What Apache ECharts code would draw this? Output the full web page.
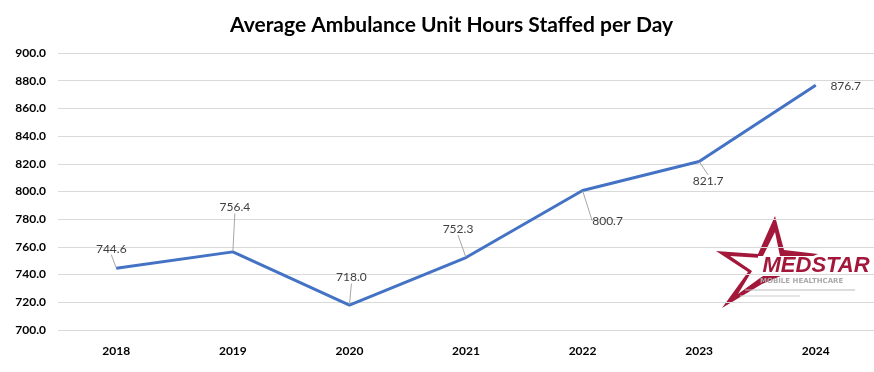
<!DOCTYPE html>
<html><head><meta charset="utf-8">
<script src="https://cdn.jsdelivr.net/npm/echarts@6/dist/echarts.min.js"></script>
<style>html,body{margin:0;padding:0;background:#fff}#c{width:874px;height:372px}</style>
</head><body><div id="c"></div>
<script>
const titleText = 'Average Ambulance Unit Hours Staffed per Day';
const years = ['2018','2019','2020','2021','2022','2023','2024'];
const hours = [744.6, 756.4, 718.0, 752.3, 800.7, 821.7, 876.7];
const yMin = 700, yMax = 900, yStep = 20;

const labelShift = [[-5,-8],[2,-33],[2,-16],[-8,-17],[25,42],[9,31],[30,12]];

const chart = echarts.init(document.getElementById('c'), null, {renderer:'canvas'});
const red = '#A3173A';
const seriesData = hours.map((v,i)=> i === hours.length-1 ? {value:v,labelLine:{show:false}} : v);
chart.setOption({
  animation:false,
  title:{text:titleText,left:225,top:10,textStyle:{fontFamily:'Lato',fontWeight:'bold',fontSize:21,color:'#000'}},
  grid:{left:58,right:0,top:53,bottom:42},
  xAxis:{type:'category',data:years,boundaryGap:true,
    axisLine:{show:false},axisTick:{show:false},
    axisLabel:{fontFamily:'Lato',fontWeight:'bold',fontSize:12,color:'#000',margin:15}},
  yAxis:{type:'value',min:yMin,max:yMax,interval:yStep,
    axisLine:{show:false},axisTick:{show:false},
    splitLine:{lineStyle:{color:'#D9D9D9',width:1}},
    axisLabel:{fontFamily:'Lato',fontWeight:'bold',fontSize:12,color:'#000',margin:12,
      formatter:v=>v.toFixed(1)}},
  series:[{type:'line',data:seriesData,symbol:'circle',symbolSize:1,showSymbol:true,
    itemStyle:{color:'#4472C4'},
    lineStyle:{color:'#4472C4',width:3},
    label:{show:true,position:'top',fontFamily:'Lato',fontSize:12,color:'#404040',
      formatter:p=>Number(p.value).toFixed(1)},
    labelLine:{show:true,lineStyle:{color:'#A6A6A6',width:1}},
    labelLayout:p=>({dx:labelShift[p.dataIndex][0],dy:labelShift[p.dataIndex][1]})
  }],
  graphic:[
    {type:'polygon',shape:{points:[[775,216],[784,250],[818,254],[789,266],[790,272],[762,284],[722,308],[748,272],[716,251],[758,254]]},
      style:{fill:red}},
    {type:'polygon',shape:{points:[[775,232],[780,256],[800,258],[782,264],[760,278],[738,294],[752,271],[730,256],[762,258]]},
      style:{fill:'#fff'}},
    {type:'rect',shape:{x:758,y:256,width:106,height:20},style:{fill:'#fff'}},
    {type:'text',left:762,top:254,style:{text:'MEDSTAR',font:'italic bold 22px "Liberation Sans"',fill:red,stroke:'#fff',lineWidth:1}},
    {type:'text',left:760,top:278,style:{text:'MOBILE HEALTHCARE',font:'bold 7px "DejaVu Sans"',fill:'#aaa'}},
    {type:'line',shape:{x1:745,y1:290,x2:855,y2:290},style:{stroke:'#bbb',lineWidth:1}},
    {type:'line',shape:{x1:740,y1:296,x2:800,y2:296},style:{stroke:'#ccc',lineWidth:1}}
  ]
});
</script></body></html>
